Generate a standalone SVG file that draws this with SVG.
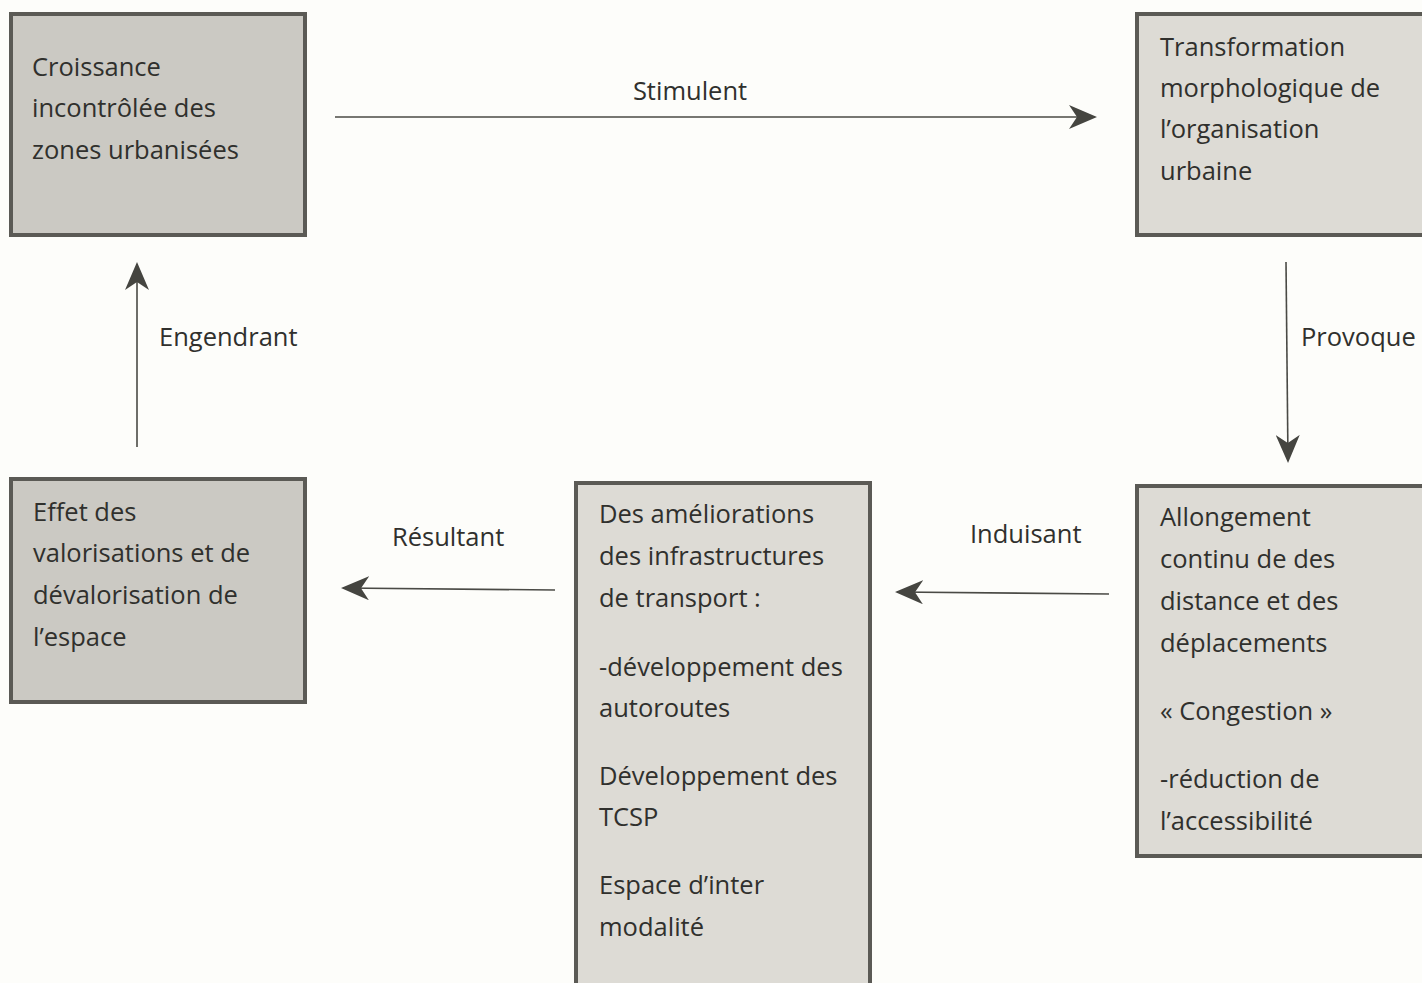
<svg xmlns="http://www.w3.org/2000/svg" width="1422" height="983" viewBox="0 0 1422 983">
  <defs>
    <marker id="head" viewBox="0 0 28 24" refX="26" refY="12" markerWidth="28" markerHeight="24" markerUnits="userSpaceOnUse" orient="auto">
      <path d="M0,0 L28,12 L0,24 L8,12 Z" fill="#454540"/>
    </marker>
  </defs>
  <style>
    .box { stroke: #5b5a55; stroke-width: 4; }
    .dark { fill: #cbc9c3; }
    .light { fill: #dddbd5; }
    text { font-family: "Open Sans", "Noto Sans", sans-serif; font-size: 25.5px; fill: #30302d; }
    .conn { stroke: #4a4a45; stroke-width: 1.6; fill: none; marker-end: url(#head); }
  </style>
  <rect width="1422" height="983" fill="#fdfdfa"/>

  <g id="croissance">
    <rect class="box dark" x="11" y="14" width="294" height="221"/>
    <text x="32" y="76">Croissance</text>
    <text x="32" y="117">incontrôlée des</text>
    <text x="32" y="159">zones urbanisées</text>
  </g>

  <g id="transformation">
    <rect class="box light" x="1137" y="14" width="290" height="221"/>
    <text x="1160" y="56">Transformation</text>
    <text x="1160" y="97">morphologique de</text>
    <text x="1160" y="138">l’organisation</text>
    <text x="1160" y="180">urbaine</text>
  </g>

  <g id="allongement">
    <rect class="box light" x="1137" y="486" width="290" height="370"/>
    <text x="1160" y="526">Allongement</text>
    <text x="1160" y="568">continu de des</text>
    <text x="1160" y="610">distance et des</text>
    <text x="1160" y="652">déplacements</text>
    <text x="1160" y="720">« Congestion »</text>
    <text x="1160" y="788">-réduction de</text>
    <text x="1160" y="830">l’accessibilité</text>
  </g>

  <g id="ameliorations">
    <rect class="box light" x="576" y="483" width="294" height="510"/>
    <text x="599" y="523">Des améliorations</text>
    <text x="599" y="565">des infrastructures</text>
    <text x="599" y="607">de transport :</text>
    <text x="599" y="676">-développement des</text>
    <text x="599" y="717">autoroutes</text>
    <text x="599" y="785">Développement des</text>
    <text x="599" y="826">TCSP</text>
    <text x="599" y="894">Espace d’inter</text>
    <text x="599" y="936">modalité</text>
  </g>

  <g id="effet">
    <rect class="box dark" x="11" y="479" width="294" height="223"/>
    <text x="33" y="521">Effet des</text>
    <text x="33" y="562">valorisations et de</text>
    <text x="33" y="604">dévalorisation de</text>
    <text x="33" y="646">l’espace</text>
  </g>

  <g id="connectors">
    <line class="conn" x1="335" y1="117" x2="1095" y2="117"/>
    <text x="690" y="100" text-anchor="middle">Stimulent</text>
    <line class="conn" x1="1286" y1="262" x2="1288" y2="461"/>
    <text x="1301" y="346">Provoque</text>
    <line class="conn" x1="1109" y1="594" x2="897" y2="592"/>
    <text x="970" y="543">Induisant</text>
    <line class="conn" x1="555" y1="590" x2="343" y2="588"/>
    <text x="392" y="546">Résultant</text>
    <line class="conn" x1="137" y1="447" x2="137" y2="264"/>
    <text x="159" y="346">Engendrant</text>
  </g>
</svg>
